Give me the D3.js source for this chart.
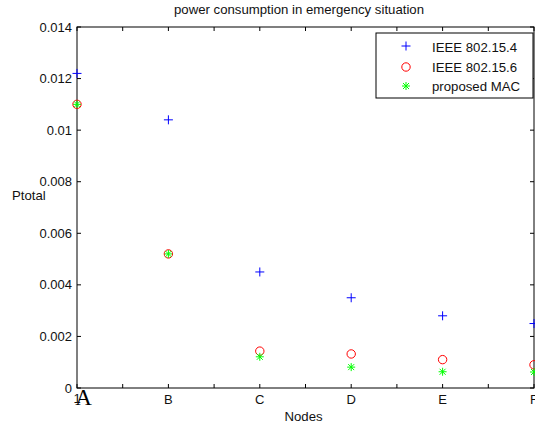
<!DOCTYPE html>
<html><head><meta charset="utf-8">
<script src="https://cdn.jsdelivr.net/npm/d3@7"></script>
<style>body{margin:0;background:#fff}svg{display:block}text{font-family:"Liberation Sans",Arial,sans-serif}</style>
</head><body>
<script>
const categories = ["A","B","C","D","E","F"];
const xPositions = [1,2,3,4,5,6];
const ieee4 = [0.0122,0.0104,0.0045,0.0035,0.0028,0.0025];
const ieee6 = [0.0110,0.0052,0.00143,0.00132,0.0011,0.0009];
const proposed = [0.0110,0.0052,0.00121,0.00081,0.00063,0.00062];
const yTicks = [0,0.002,0.004,0.006,0.008,0.01,0.012,0.014];
const yTickLabels = ["0","0.002","0.004","0.006","0.008","0.01","0.012","0.014"];
const xTicks = [1,1.5,2,2.5,3,3.5,4,4.5,5,5.5,6];
const seriesNames = ["IEEE 802.15.4","IEEE 802.15.6","proposed MAC"];

const W=535,H=430;
const L=77,R=534,T=27,B=388;
const FS=13.2;
const svg=d3.select("body").append("svg").attr("width",W).attr("height",H);
const x=d3.scaleLinear().domain([1,6]).range([L,R]);
const y=d3.scaleLinear().domain([0,0.014]).range([B,T]);

svg.append("rect").attr("x",L).attr("y",T).attr("width",R-L).attr("height",B-T)
  .attr("fill","none").attr("stroke","#000").attr("stroke-width",1);

const tl=4;
yTicks.forEach((v,i)=>{
  svg.append("line").attr("x1",L).attr("x2",L+tl).attr("y1",y(v)).attr("y2",y(v)).attr("stroke","#000");
  svg.append("line").attr("x1",R).attr("x2",R-tl).attr("y1",y(v)).attr("y2",y(v)).attr("stroke","#000");
  svg.append("text").attr("x",L-5).attr("y",y(v)+4.5).attr("text-anchor","end")
    .attr("font-size",13).attr("fill","#111").text(yTickLabels[i]);
});
xTicks.forEach(v=>{
  svg.append("line").attr("x1",x(v)).attr("x2",x(v)).attr("y1",B).attr("y2",B-tl).attr("stroke","#000");
  svg.append("line").attr("x1",x(v)).attr("x2",x(v)).attr("y1",T).attr("y2",T+tl).attr("stroke","#000");
});
svg.append("text").attr("x",x(1)).attr("y",B+15).attr("text-anchor","middle").attr("font-size",13).attr("fill","#111").text("1");
categories.forEach((c,i)=>{
  if(i===0){
    svg.append("text").attr("x",x(xPositions[i])+6.5).attr("y",B+17).attr("text-anchor","middle")
      .attr("font-size",23).style("font-family","'Liberation Serif','Times New Roman',serif").attr("fill","#000").text(c);
  } else {
    svg.append("text").attr("x",x(xPositions[i])).attr("y",B+16).attr("text-anchor","middle")
      .attr("font-size",13).attr("fill","#111").text(c);
  }
});

svg.append("text").attr("x",299).attr("y",14).attr("text-anchor","middle").attr("font-size",FS).attr("fill","#111").text("power consumption in emergency situation");
svg.append("text").attr("x",12).attr("y",200).attr("font-size",FS).attr("fill","#111").text("Ptotal");
svg.append("text").attr("x",303.5).attr("y",421).attr("text-anchor","middle").attr("font-size",FS).attr("fill","#111").text("Nodes");

function plus(g,cx,cy,s,col){
  g.append("line").attr("x1",cx-s).attr("x2",cx+s).attr("y1",cy).attr("y2",cy).attr("stroke",col);
  g.append("line").attr("x1",cx).attr("x2",cx).attr("y1",cy-s).attr("y2",cy+s).attr("stroke",col);
}
function circ(g,cx,cy,col){
  g.append("circle").attr("cx",cx).attr("cy",cy).attr("r",4.2).attr("fill","none").attr("stroke",col).attr("stroke-width",1);
}
function star(g,cx,cy,col){
  const s=4;
  plus(g,cx,cy,s,col);
  const d=s*0.75;
  g.append("line").attr("x1",cx-d).attr("x2",cx+d).attr("y1",cy-d).attr("y2",cy+d).attr("stroke",col);
  g.append("line").attr("x1",cx-d).attr("x2",cx+d).attr("y1",cy+d).attr("y2",cy-d).attr("stroke",col);
}
const g=svg.append("g");
xPositions.forEach((xp,i)=>{
  plus(g,x(xp),y(ieee4[i]),4.5,"#0000ff");
  circ(g,x(xp),y(ieee6[i]),"#ff0000");
  star(g,x(xp),y(proposed[i]),"#00ff00");
});

const lg=svg.append("g");
lg.append("rect").attr("x",376).attr("y",33).attr("width",157).attr("height",65).attr("fill","#fff").attr("stroke","#000");
const rows=[46,67,86];
const baselines=[51.5,71.5,90.5];
plus(lg,406,rows[0],4.5,"#0000ff");
circ(lg,406,rows[1],"#ff0000");
star(lg,406,rows[2],"#00ff00");
seriesNames.forEach((n,i)=>{
  lg.append("text").attr("x",432).attr("y",baselines[i]).attr("font-size",FS).attr("fill","#111").text(n);
});
</script>
</body></html>
